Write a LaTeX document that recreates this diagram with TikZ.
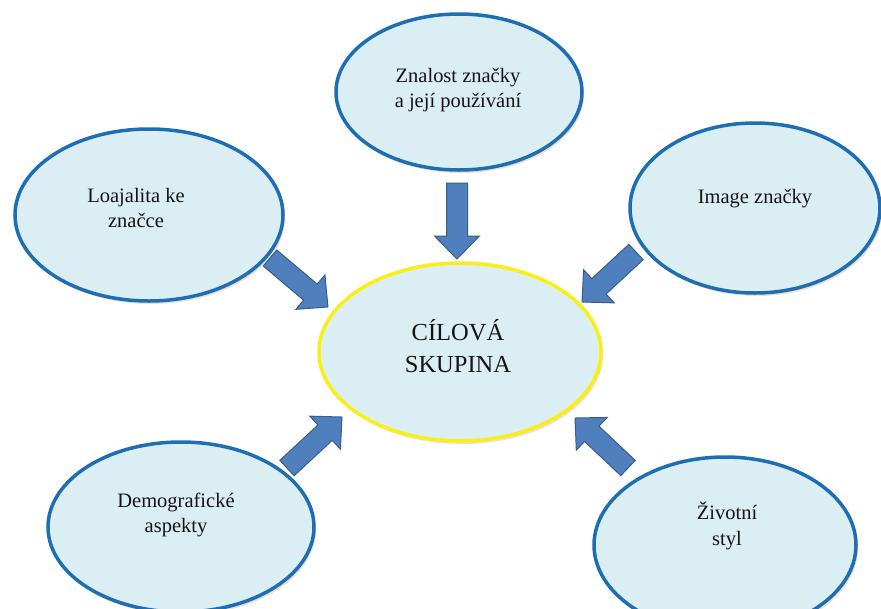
\documentclass[tikz,border=0pt]{standalone}
\usepackage{fontspec}
\setmainfont{Liberation Serif}
\usetikzlibrary{calc,shapes.geometric,shadows}
\definecolor{ellfill}{RGB}{219,238,244}
\definecolor{elledge}{RGB}{30,110,180}
\definecolor{cenedge}{RGB}{250,238,20}
\definecolor{arrfill}{RGB}{79,128,189}
\definecolor{arredge}{RGB}{56,93,138}
\definecolor{txtcol}{RGB}{20,20,20}
\tikzset{
  bubble/.style={ellipse, draw=elledge, line width=3.5pt, fill=ellfill, inner sep=0pt,
    drop shadow={shadow xshift=2pt, shadow yshift=-3pt, opacity=0.25, fill=orange!45!gray}},
  core/.style={bubble, draw=cenedge},
  lbl/.style={font=\fontsize{20.5}{25.5}\selectfont, align=center, text=txtcol, inner sep=0pt},
  corelbl/.style={lbl, font=\fontsize{24.5}{32}\selectfont},
  arrowbox/.style={draw=arredge, fill=arrfill, line width=1pt, line join=miter}
}
\newcommand\blockarrow[2]{%
  \draw[arrowbox] let \p1=($(#2)-(#1)$), \n1={atan2(\y1,\x1)}, \n2={veclen(\x1,\y1)} in
    [shift={(#1)}, rotate=\n1]
    (0,-10.5) -- ({\n2-23},-10.5) -- ({\n2-23},-22.5) -- (\n2,0) --
    ({\n2-23},22.5) -- ({\n2-23},10.5) -- (0,10.5) -- cycle;}
\begin{document}
\begin{tikzpicture}[x=1pt,y=-1pt]
\useasboundingbox (0,0) rectangle (881,608);
\clip (0,0) rectangle (881,608);
% bubbles
\node[bubble, minimum width=246pt, minimum height=156pt] (know) at (459,92) {};
\node[bubble, minimum width=268pt, minimum height=172pt] (loy) at (149,215) {};
\node[bubble, minimum width=250pt, minimum height=170pt] (img) at (755,208) {};
\node[core, minimum width=282pt, minimum height=178pt] (core) at (460,352) {};
\node[bubble, minimum width=266pt, minimum height=170pt] (demo) at (181,527) {};
\node[bubble, minimum width=262pt, minimum height=176pt] (life) at (725,545) {};
% texts
\node[lbl] (tknow) at (458,90) {Znalost značky\\a její používání};
\node[lbl] (tloy) at (136,208) {Loajalita ke\\značce};
\node[lbl] (timg) at (755,199) {Image značky};
\node[corelbl] (tcore) at (458,346) {CÍLOVÁ\\SKUPINA};
\node[lbl] (tdemo) at (176,515) {Demografické\\aspekty};
\node[lbl] (tlife) at (727,526) {Životní\\styl};
% arrow ends
\coordinate (k1) at (457,183); \coordinate (k2) at (457,259);
\coordinate (l1) at (270,258); \coordinate (l2) at (328,307);
\coordinate (i1) at (636,252); \coordinate (i2) at (582,302);
\coordinate (d1) at (287,468); \coordinate (d2) at (342,417);
\coordinate (s1) at (628,468); \coordinate (s2) at (575,418);
\blockarrow{k1}{k2}
\blockarrow{l1}{l2}
\blockarrow{i1}{i2}
\blockarrow{d1}{d2}
\blockarrow{s1}{s2}
\end{tikzpicture}
\end{document}
